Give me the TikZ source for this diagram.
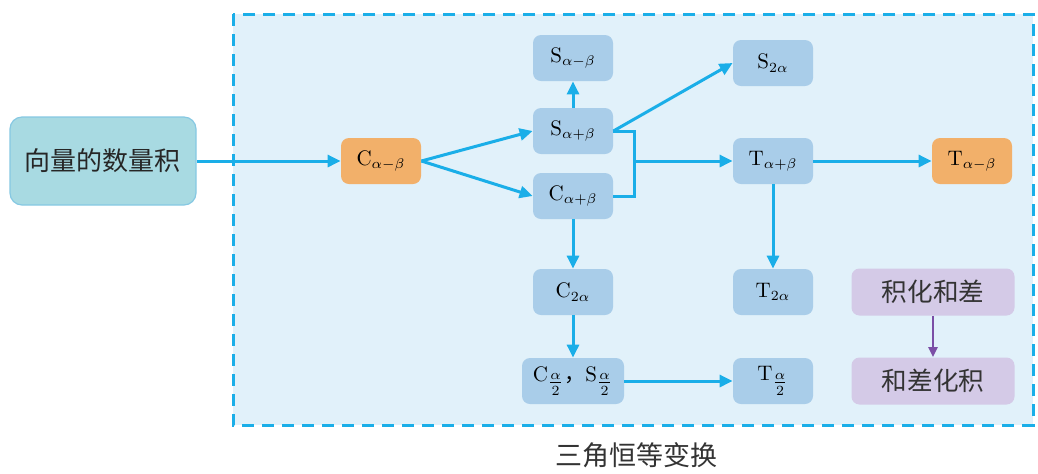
\documentclass[tikz,border=0pt]{standalone}
\usepackage{amsmath}
\usepackage{fontspec}
\newfontfamily\cjk{Noto Sans CJK SC}
\usetikzlibrary{arrows.meta}
\definecolor{arr}{HTML}{1AAEE8}
\definecolor{bg}{HTML}{E1F1FA}
\definecolor{bluebox}{HTML}{A9CDE9}
\definecolor{orangebox}{HTML}{F2B06A}
\definecolor{tealbox}{HTML}{A8DAE2}
\definecolor{tealline}{HTML}{86C8E2}
\definecolor{purplebox}{HTML}{D4CAE7}
\definecolor{purplearr}{HTML}{7B4FA6}
\tikzset{
  bbox/.style={rectangle, rounded corners=4pt, fill=bluebox, minimum width=40pt, minimum height=23pt, inner sep=1pt, font=\fontsize{10.5}{12}\selectfont},
  obox/.style={bbox, fill=orangebox},
  pbox/.style={rectangle, rounded corners=4pt, fill=purplebox, minimum width=81.5pt, minimum height=23.5pt, font=\cjk\fontsize{12.8}{14}\selectfont, text=black!80},
  conn/.style={draw=arr, line width=1.5pt, -{Triangle[length=6.5pt,width=6pt]}},
  plain/.style={draw=arr, line width=1.5pt},
}
\begin{document}
\begin{tikzpicture}[x=0.5pt,y=-0.5pt]
\useasboundingbox (0,0) rectangle (1038,473);
% background dashed frame
\fill[bg] (233,14) rectangle (1033,425);
\draw[arr, line width=1.5pt, dash pattern=on 6pt off 4pt] (233,14) rectangle (1033,425);
% nodes
\node[rectangle, rounded corners=6pt, fill=tealbox, draw=tealline, line width=0.6pt, minimum width=93pt, minimum height=44pt, font=\cjk\fontsize{13}{15}\selectfont, text=black!85] (v) at (103,161) {向量的数量积};
\node[obox] (cmb) at (381,161) {$\mathrm{C}_{\alpha-\beta}$};
\node[bbox] (smb) at (573,58) {$\mathrm{S}_{\alpha-\beta}$};
\node[bbox] (spb) at (573,131) {$\mathrm{S}_{\alpha+\beta}$};
\node[bbox] (cpb) at (573,196) {$\mathrm{C}_{\alpha+\beta}$};
\node[bbox] (s2a) at (773,63) {$\mathrm{S}_{2\alpha}$};
\node[bbox] (tpb) at (773,161) {$\mathrm{T}_{\alpha+\beta}$};
\node[obox] (tmb) at (972,161) {$\mathrm{T}_{\alpha-\beta}$};
\node[bbox] (c2a) at (573,292) {$\mathrm{C}_{2\alpha}$};
\node[bbox] (t2a) at (773,292) {$\mathrm{T}_{2\alpha}$};
\node[bbox, minimum width=51pt] (csh) at (573,381) {$\mathrm{C}_{\tfrac{\alpha}{2}}$\cjk{，}$\mathrm{S}_{\tfrac{\alpha}{2}}$};
\node[bbox] (th) at (773,381) {$\mathrm{T}_{\tfrac{\alpha}{2}}$};
\node[pbox] (jh) at (933,292) {积化和差};
\node[pbox] (hj) at (933,381) {和差化积};
\node[font=\cjk\fontsize{13.5}{15}\selectfont, text=black!80] (cap) at (636,455) {三角恒等变换};
\coordinate (j) at (634,161);
% connectors
\draw[conn] (v.east) -- (cmb.west);
\draw[conn] (cmb.east) -- (spb.west);
\draw[conn] (cmb.east) -- (cpb.west);
\draw[conn] (spb.north) -- (smb.south);
\draw[conn] (spb.east) -- (s2a.west);
\draw[plain] (spb.east) -- (spb.east -| j) -- (cpb.east -| j) -- (cpb.east);
\draw[conn] (j) -- (tpb.west);
\draw[conn] (tpb.east) -- (tmb.west);
\draw[conn] (tpb.south) -- (t2a.north);
\draw[conn] (cpb.south) -- (c2a.north);
\draw[conn] (c2a.south) -- (csh.north);
\draw[conn] (csh.east) -- (th.west);
\draw[draw=purplearr, line width=1.2pt, -{Triangle[length=5pt,width=4.5pt]}] (jh.south) -- (hj.north);
\end{tikzpicture}
\end{document}
